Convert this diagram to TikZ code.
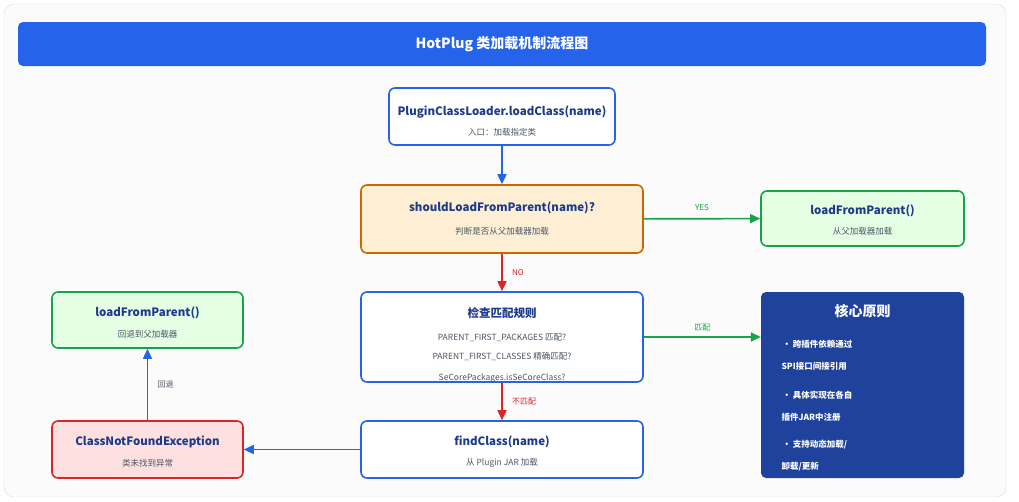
\documentclass[tikz,border=0pt]{standalone}
\usepackage{fontspec}
\setmainfont{Noto Sans CJK SC}
\usetikzlibrary{arrows.meta}
\definecolor{bl}{HTML}{2563EB}
\definecolor{dk}{HTML}{1E3A8A}
\definecolor{gr}{HTML}{16A34A}
\definecolor{rd}{HTML}{DC2626}
\definecolor{sub}{HTML}{4B5563}
\tikzset{
 box/.style={draw=bl,line width=1.6pt,rounded corners=6pt,fill=white},
 ttl/.style={text=dk,font=\bfseries\fontsize{11.5}{13}\selectfont},
 st/.style={text=sub,font=\fontsize{8.5}{10}\selectfont},
 arr/.style={line width=1.6pt,-{Triangle[length=10pt,width=9pt]}},
 lab/.style={font=\fontsize{8}{10}\selectfont}
}
\begin{document}
\begin{tikzpicture}[x=1pt,y=-1pt]
\useasboundingbox (0,0) rectangle (1019,501);
\fill[white] (0,0) rectangle (1019,501);
\draw[draw=gray!25,fill=gray!3,rounded corners=10pt] (4,4) rectangle (1006,497);
\node[fill=bl,rounded corners=5pt,minimum width=968pt,minimum height=44pt,text=white,font=\bfseries\fontsize{14}{16}\selectfont] (title) at (502,44) {HotPlug 类加载机制流程图};
% nodes
\node[box,minimum width=226pt,minimum height=57pt] (start) at (502,116.5) {};
\node[ttl] at (502,112) {PluginClassLoader.loadClass(name)};
\node[st] at (502,132) {入口：加载指定类};
\node[box,draw=orange!80!black,fill=yellow!25!orange!15,minimum width=282pt,minimum height=68pt] (should) at (502,219) {};
\node[ttl] at (502,208) {shouldLoadFromParent(name)?};
\node[st] at (502,231) {判断是否从父加载器加载};
\node[box,draw=gr,fill=green!10,minimum width=203pt,minimum height=55pt] (lfp) at (862.5,218.5) {};
\node[ttl] at (862.5,211) {loadFromParent()};
\node[st] at (862.5,231) {从父加载器加载};
\node[box,minimum width=282pt,minimum height=90pt] (check) at (502,337) {};
\node[ttl] at (502,313) {检查匹配规则};
\node[st] at (502,338) {PARENT\_FIRST\_PACKAGES 匹配?};
\node[st] at (502,357) {PARENT\_FIRST\_CLASSES 精确匹配?};
\node[st] at (502,378) {SeCorePackages.isSeCoreClass?};
\node[fill=blue!60!black,fill=dk!80!bl,rounded corners=5pt,minimum width=203pt,minimum height=186pt] (core) at (862.5,385) {};
\node[text=white,font=\bfseries\fontsize{14}{16}\selectfont] at (862.5,311) {核心原则};
\begin{scope}[every node/.style={text=white,font=\bfseries\fontsize{8.5}{10}\selectfont,anchor=west}]
\node at (779,344) {・ 跨插件依赖通过};
\node at (778,366) {SPI接口间接引用};
\node at (779,395) {・ 具体实现在各自};
\node at (778,417) {插件JAR中注册};
\node at (779,445) {・ 支持动态加载/};
\node at (778,467) {卸载/更新};
\end{scope}
\node[box,draw=gr,fill=green!10,minimum width=191pt,minimum height=56pt] (lfp2) at (147.5,320) {};
\node[ttl] at (147.5,313) {loadFromParent()};
\node[st] at (147.5,334) {回退到父加载器};
\node[box,draw=rd,fill=red!12,minimum width=191pt,minimum height=57pt] (cnf) at (147.5,449.5) {};
\node[ttl] at (147.5,442) {ClassNotFoundException};
\node[st] at (147.5,463) {类未找到异常};
\node[box,minimum width=282pt,minimum height=57pt] (find) at (502,449.5) {};
\node[ttl] at (502,442) {findClass(name)};
\node[st] at (502,463) {从 Plugin JAR 加载};
% arrows
\draw[arr,bl] (start) -- (should);
\draw[arr,rd] (should) -- node[lab,text=rd,right=6pt]{NO} (check);
\draw[arr,gr] (should) -- node[lab,text=gr,above=4pt]{YES} (lfp);
\draw[arr,gr] (check.east|-0,337) -- node[lab,text=gr,above=2pt]{匹配} (core.west|-0,337);
\draw[arr,rd] (check) -- node[lab,text=rd,right=6pt]{不匹配} (find);
\draw[arr,bl] (find) -- (cnf);
\draw[arr,bl] (cnf) -- node[lab,text=sub,right=6pt]{回退} (lfp2);
\end{tikzpicture}
\end{document}
